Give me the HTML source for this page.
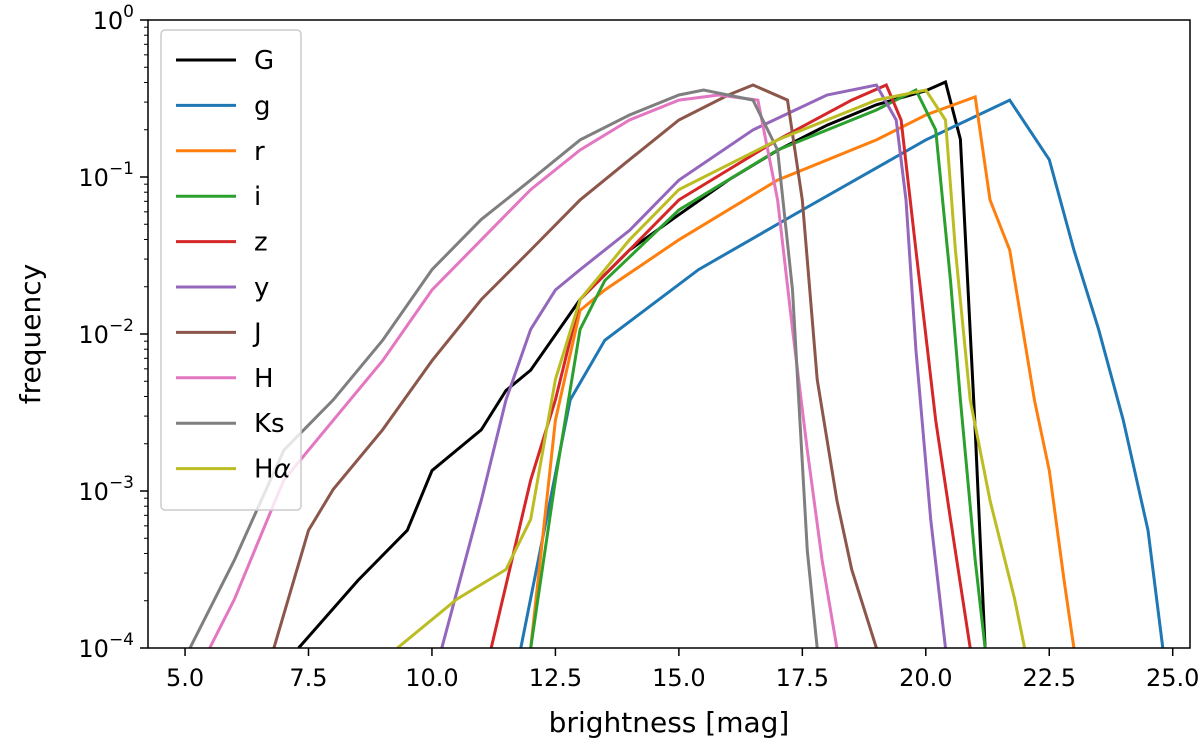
<!DOCTYPE html>
<html><head><meta charset="utf-8"><style>
body{margin:0;background:#fff}
svg{display:block;font-family:"DejaVu Sans","Liberation Sans",sans-serif}
</style></head><body>
<svg id="chart" width="1200" height="748" viewBox="0 0 1200 748" xmlns="http://www.w3.org/2000/svg"></svg>
<script>
const seriesNames=["G","g","r","i","z","y","J","H","Ks","Hα"];
const seriesColors=["#000000","#1f77b4","#ff7f0e","#2ca02c","#d62728","#9467bd","#8c564b","#e377c2","#7f7f7f","#bcbd22"];
const xTicks=[5.0,7.5,10.0,12.5,15.0,17.5,20.0,22.5,25.0];
const yTickExp=[0,-1,-2,-3,-4];
// magnitudes and log10(frequency) per series
const magG=[7.3,8.5,9.5,10,11,11.5,12,13,14,15,16,17,18,19,20,20.4,20.7,21,21.2];
const logG=[-4.0,-3.57,-3.25,-2.87,-2.61,-2.36,-2.23,-1.78,-1.465,-1.24,-1.02,-0.83,-0.67,-0.54,-0.45,-0.395,-0.76,-2.61,-4.0];
const magg=[11.8,12.8,13.5,15.4,17.5,20,21.7,22.5,23,23.5,24,24.5,24.8];
const logg=[-4.0,-2.42,-2.04,-1.59,-1.21,-0.764,-0.51,-0.89,-1.465,-1.97,-2.55,-3.25,-4.0];
const magr=[12.0,12.5,13,13.5,15,17,19,20,21,21.3,21.7,22.2,22.5,22.8,23.0];
const logr=[-4.0,-2.55,-1.85,-1.72,-1.40,-1.02,-0.764,-0.605,-0.49,-1.146,-1.465,-2.42,-2.87,-3.57,-4.0];
const magi=[12.0,12.5,13,13.5,15,17,19,19.8,20.2,20.5,20.7,21,21.2];
const logi=[-4.0,-2.93,-1.97,-1.66,-1.21,-0.828,-0.573,-0.446,-0.70,-1.66,-2.42,-3.44,-4.0];
const magz=[11.2,12,12.5,13,14,15,17,18.5,19.2,19.5,19.8,20.2,20.5,20.9];
const logz=[-4.0,-2.93,-2.42,-1.78,-1.465,-1.146,-0.764,-0.51,-0.414,-0.637,-1.465,-2.55,-3.18,-4.0];
const magy=[10.2,11,11.5,12,12.5,13,14,15,16.5,18,19,19.4,19.6,19.8,20.1,20.4];
const logy=[-4.0,-3.06,-2.42,-1.97,-1.72,-1.59,-1.34,-1.02,-0.70,-0.478,-0.414,-0.637,-1.146,-2.10,-3.18,-4.0];
const magJ=[6.8,7.5,8,9,10,11,12,13,14,15,16,16.5,17.2,17.5,17.8,18.2,18.5,19];
const logJ=[-4.0,-3.25,-2.99,-2.61,-2.17,-1.78,-1.465,-1.146,-0.89,-0.637,-0.478,-0.414,-0.51,-1.146,-2.29,-3.06,-3.50,-4.0];
const magH=[5.5,6,7,8,9,10,11,12,13,14,15,15.8,16.6,17,17.3,17.6,17.9,18.2];
const logH=[-4.0,-3.69,-2.93,-2.55,-2.17,-1.72,-1.40,-1.08,-0.828,-0.637,-0.51,-0.478,-0.51,-1.146,-1.97,-2.74,-3.44,-4.0];
const magKs=[5.1,6,7,8,9,10,11,12,13,14,15,15.5,16.5,17,17.3,17.6,17.8];
const logKs=[-4.0,-3.44,-2.74,-2.42,-2.04,-1.59,-1.27,-1.02,-0.764,-0.605,-0.478,-0.446,-0.51,-0.828,-1.72,-3.38,-4.0];
const magHa=[9.3,10.5,11.5,12,12.5,13,14,15,17,19,20,20.4,20.6,20.9,21.3,21.8,22];
const logHa=[-4.0,-3.69,-3.50,-3.18,-2.29,-1.78,-1.40,-1.08,-0.764,-0.51,-0.446,-0.637,-1.465,-2.42,-3.06,-3.69,-4.0];
const allMags=[magG,magg,magr,magi,magz,magy,magJ,magH,magKs,magHa];
const allLogs=[logG,logg,logr,logi,logz,logy,logJ,logH,logKs,logHa];

const L=148,R=1190,T=20,B=648;
const xMin=4.25,xMax=25.35;
const X=m=>L+(m-xMin)/(xMax-xMin)*(R-L);
const Y=lg=>T+(0-lg)/4*(B-T);
const NS="http://www.w3.org/2000/svg";
const svg=document.getElementById('chart');
function mk(tag,attrs,parent){const e=document.createElementNS(NS,tag);for(const k in attrs)e.setAttribute(k,attrs[k]);(parent||svg).appendChild(e);return e;}

const clip=mk('clipPath',{id:'pc'});mk('rect',{x:L,y:T,width:R-L,height:B-T},clip);
const plot=mk('g',{'clip-path':'url(#pc)'});


for(let s=0;s<seriesNames.length;s++){
  const pts=allMags[s].map((m,i)=>X(m).toFixed(1)+','+Y(Math.max(allLogs[s][i],-4.1)).toFixed(1)).join(' ');
  const pl=mk('polyline',{points:pts,fill:'none',stroke:seriesColors[s],'stroke-width':3,'stroke-linejoin':'miter'},plot);
  
  
}
const frame=mk('rect',{x:L,y:T,width:R-L,height:B-T,fill:'none',stroke:'#000','stroke-width':1.5});



// x ticks
xTicks.forEach(v=>{
  const x=X(v);
  mk('line',{x1:x,x2:x,y1:B,y2:B+8,stroke:'#000','stroke-width':1.5});
  const t=mk('text',{x:x,y:B+38,'text-anchor':'middle','font-size':24});
  t.textContent=v.toFixed(1);
  
  
});
// y ticks
yTickExp.forEach(e=>{
  const y=Y(e);
  mk('line',{x1:L-8,x2:L,y1:y,y2:y,stroke:'#000','stroke-width':1.5});
  const t=mk('text',{x:L-14,y:y+9,'text-anchor':'end','font-size':24});
  t.textContent='10';
  const sp=mk('tspan',{dy:-12,'font-size':17},t);sp.textContent=e===0?'0':'−'+(-e);
  
  
  if(e>-4){for(let k=2;k<=9;k++){const yy=Y(e-1+Math.log10(k));mk('line',{x1:L-4,x2:L,y1:yy,y2:yy,stroke:'#000','stroke-width':1});}}
});
const xl=mk('text',{x:(L+R)/2,y:732,'text-anchor':'middle','font-size':28});
xl.textContent='brightness [mag]';


const yl=mk('text',{x:0,y:0,'text-anchor':'middle','font-size':28,transform:'translate(40,334) rotate(-90)'});
yl.textContent='frequency';



// legend
const lg=mk('g',{});


mk('rect',{x:161,y:30,width:140,height:480,rx:4,fill:'#fff','fill-opacity':0.8,stroke:'#ccc','stroke-width':1.5},lg);
seriesNames.forEach((n,i)=>{
  const y=60+i*45.4;
  const g=mk('g',{},lg);
  
  
  mk('line',{x1:176,x2:236,y1:y,y2:y,stroke:seriesColors[i],'stroke-width':3},g);
  const t=mk('text',{x:254,y:y+9,'font-size':26},g);
  if(n==='Hα'){t.textContent='H';const a=mk('tspan',{'font-style':'italic'},t);a.textContent='α';}
  else t.textContent=n;
});
</script>
</body></html>
